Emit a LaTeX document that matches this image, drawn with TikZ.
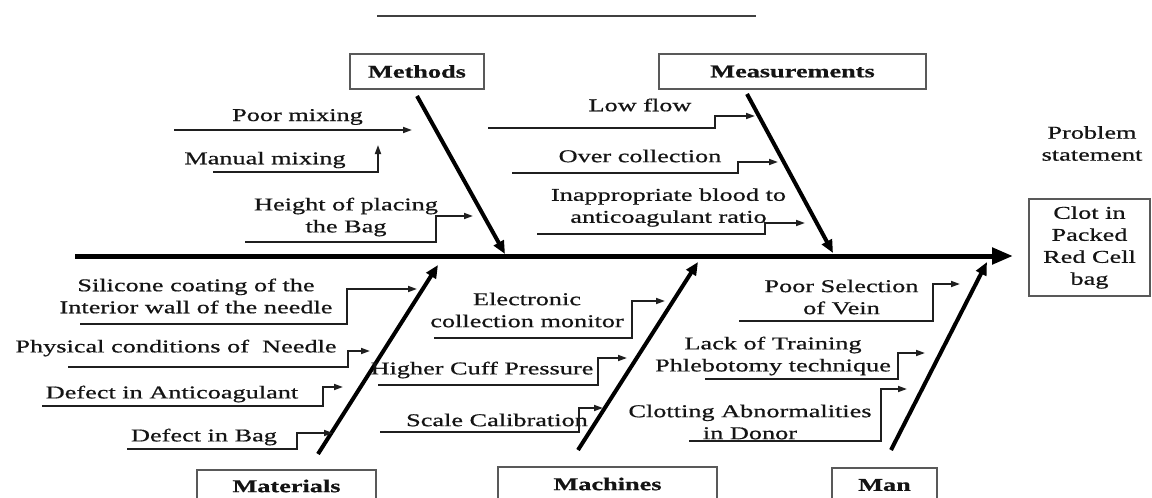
\documentclass[tikz,border=0pt]{standalone}
\usepackage{fontspec}
\setmainfont{Liberation Serif}[FakeStretch=1.46,FakeBold=0.7]
\usetikzlibrary{arrows.meta}
\begin{document}
\begin{tikzpicture}[x=1pt,y=-1pt,
  every node/.style={font=\fontsize{18}{22}\selectfont, text=black!92, inner sep=0pt},
  catbox/.style={draw=black!65, line width=1.4pt, font=\fontsize{18}{22}\selectfont\bfseries},
  lbl/.style={align=center},
  cause/.style={line width=1.7pt, draw=black!88, -{Triangle[length=9pt,width=6pt]}},
  bone/.style={line width=4pt, draw=black, -{Triangle[length=13pt,width=11pt]}},
  spine/.style={line width=5pt, draw=black, -{Triangle[length=21pt,width=16pt]}},
  topline/.style={line width=1.3pt, draw=black!75}]
\useasboundingbox (0,0) rectangle (1152,498);

% top rule
\coordinate (tl1) at (377,16);
\coordinate (tl2) at (756,16);
\draw[topline] (tl1) -- (tl2);

% category boxes
\node[catbox, minimum width=134pt, minimum height=35pt] (methods) at (417,71.5) {Methods};
\node[catbox, minimum width=267pt, minimum height=35pt] (meas) at (792.5,71.5) {Measurements};
\node[catbox, minimum width=179pt, minimum height=32pt] (materials) at (286.5,486) {Materials};
\node[catbox, minimum width=219pt, minimum height=34pt] (machines) at (607.5,484) {Machines};
\node[catbox, minimum width=105pt, minimum height=34pt] (man) at (884.5,485) {Man};

% problem
\node[lbl] (ps) at (1092,143.5) {Problem\\statement};
\node[draw=black!65, line width=1.4pt, minimum width=121pt, minimum height=97pt, align=center] (clot) at (1089.5,247.5) {Clot in\\Packed\\Red Cell\\bag};

% spine
\coordinate (sp0) at (75,256);
\coordinate (sp1) at (1013,256);
\draw[spine] (sp0) -- (sp1);

% bones
\coordinate (b1s) at (417,96);  \coordinate (b1e) at (505,254);
\coordinate (b2s) at (747,94);  \coordinate (b2e) at (833,253);
\coordinate (b3s) at (318,454); \coordinate (b3e) at (438,265);
\coordinate (b4s) at (578,450); \coordinate (b4e) at (698,262);
\coordinate (b5s) at (891,450); \coordinate (b5e) at (987,262);
\draw[bone] (b1s) -- (b1e);
\draw[bone] (b2s) -- (b2e);
\draw[bone] (b3s) -- (b3e);
\draw[bone] (b4s) -- (b4e);
\draw[bone] (b5s) -- (b5e);

% cause labels
\node[lbl] (pm) at (297.5,117) {Poor mixing};
\node[lbl] (mm) at (265,160) {Manual mixing};
\node[lbl] (hp) at (346,217) {Height of placing\\the Bag};
\node[lbl] (lf) at (640,105) {Low flow};
\node[lbl] (oc) at (640,156) {Over collection};
\node[lbl] (ib) at (668.5,207.5) {Inappropriate blood to\\anticoagulant ratio};
\node[lbl] (sc) at (196,296) {Silicone coating of the\\Interior wall of the needle};
\node[lbl] (pc) at (176,348) {Physical conditions of~ Needle};
\node[lbl] (da) at (172,394) {Defect in Anticoagulant};
\node[lbl] (db) at (204,437) {Defect in Bag};
\node[lbl] (ec) at (527,310) {Electronic\\collection monitor};
\node[lbl] (hc) at (482,370) {Higher Cuff Pressure};
\node[lbl] (scal) at (497,420) {Scale Calibration};
\node[lbl] (psv) at (841.5,297) {Poor Selection\\of Vein};
\node[lbl] (lt) at (773,356) {Lack of Training\\Phlebotomy technique};
\node[lbl] (ca) at (750,422) {Clotting Abnormalities\\in Donor};

% cause arrows
\coordinate (pm1) at (174,130); \coordinate (pm2) at (412,130);
\draw[cause] (pm1) -- (pm2);
\coordinate (mm1) at (213,172); \coordinate (mm2) at (378,145);
\draw[cause] (mm1) -| (mm2);
\coordinate (hp1) at (245,242); \coordinate (hp2) at (436,216); \coordinate (hp3) at (473,216);
\draw[cause] (hp1) -| (hp2) -- (hp3);
\coordinate (lf1) at (488,128); \coordinate (lf2) at (715,116); \coordinate (lf3) at (755,116);
\draw[cause] (lf1) -| (lf2) -- (lf3);
\coordinate (oc1) at (512,173); \coordinate (oc2) at (738,162); \coordinate (oc3) at (778,162);
\draw[cause] (oc1) -| (oc2) -- (oc3);
\coordinate (ib1) at (537,234); \coordinate (ib2) at (765,223); \coordinate (ib3) at (805,223);
\draw[cause] (ib1) -| (ib2) -- (ib3);
\coordinate (sc1) at (80,324); \coordinate (sc2) at (347,289); \coordinate (sc3) at (417,289);
\draw[cause] (sc1) -| (sc2) -- (sc3);
\coordinate (pc1) at (68,367); \coordinate (pc2) at (348,351); \coordinate (pc3) at (370,351);
\draw[cause] (pc1) -| (pc2) -- (pc3);
\coordinate (da1) at (42,406); \coordinate (da2) at (323,387); \coordinate (da3) at (343,387);
\draw[cause] (da1) -| (da2) -- (da3);
\coordinate (db1) at (127,449); \coordinate (db2) at (297,433); \coordinate (db3) at (333,433);
\draw[cause] (db1) -| (db2) -- (db3);
\coordinate (ec1) at (434,338); \coordinate (ec2) at (632,301); \coordinate (ec3) at (665,301);
\draw[cause] (ec1) -| (ec2) -- (ec3);
\coordinate (hc1) at (378,385); \coordinate (hc2) at (598,358); \coordinate (hc3) at (627,358);
\draw[cause] (hc1) -| (hc2) -- (hc3);
\coordinate (sl1) at (380,432); \coordinate (sl2) at (579,408); \coordinate (sl3) at (603,408);
\draw[cause] (sl1) -| (sl2) -- (sl3);
\coordinate (ps1) at (739,321); \coordinate (ps2) at (933,284); \coordinate (ps3) at (960,284);
\draw[cause] (ps1) -| (ps2) -- (ps3);
\coordinate (lt1) at (705,379); \coordinate (lt2) at (898,353); \coordinate (lt3) at (925,353);
\draw[cause] (lt1) -| (lt2) -- (lt3);
\coordinate (ca1) at (689,441); \coordinate (ca2) at (881,389); \coordinate (ca3) at (907,389);
\draw[cause] (ca1) -| (ca2) -- (ca3);
\end{tikzpicture}
\end{document}
